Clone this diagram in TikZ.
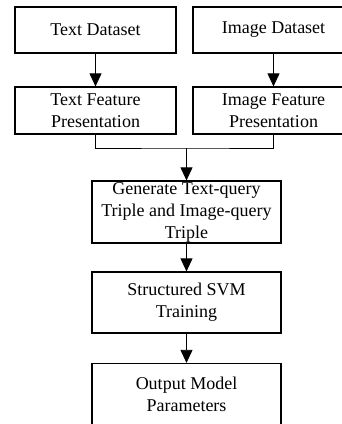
\documentclass[tikz,border=0pt]{standalone}
\usepackage{fontspec}
\setmainfont{Liberation Serif}
\usetikzlibrary{arrows.meta}

\begin{document}
\begin{tikzpicture}[x=1pt,y=-1pt,
  box/.style={draw,line width=1.2pt,align=center,inner sep=0pt,
    font=\fontsize{18}{22}\selectfont},
  arr/.style={-{Triangle[length=13pt,width=12pt]},line width=0.8pt}]
\useasboundingbox (0,0) rectangle (342,424);

% inputs
\node[box,minimum width=161pt,minimum height=46pt] (txtdata) at (95.5,30) {Text Dataset};
\node[box,minimum width=161pt,minimum height=46pt] (imgdata) at (273.5,30) {Image Dataset};

% features
\node[box,minimum width=161pt,minimum height=47pt] (txtfeat) at (95.5,110.5) {Text Feature\\Presentation};
\node[box,minimum width=161pt,minimum height=47pt] (imgfeat) at (273.5,110.5) {Image Feature\\Presentation};

% main column
\node[box,minimum width=189pt,minimum height=62pt] (triple) at (186.5,212) {Generate Text-query\\Triple and Image-query\\Triple};
\node[box,minimum width=189pt,minimum height=61pt] (ssvm) at (186.5,302.5) {Structured SVM\\Training};
\node[box,minimum width=189pt,minimum height=62pt] (output) at (186.5,394.5) {Output Model\\Parameters};

\coordinate (join) at (186.5,148);

\draw[arr] (txtdata) -- (txtfeat);
\draw[arr] (imgdata) -- (imgfeat);
\draw[line width=0.8pt] (txtfeat.south) |- (join) -| (imgfeat.south);
\draw[arr] (join) -- (triple);
\draw[arr] (triple) -- (ssvm);
\draw[arr] (ssvm) -- (output);

\end{tikzpicture}
\end{document}
